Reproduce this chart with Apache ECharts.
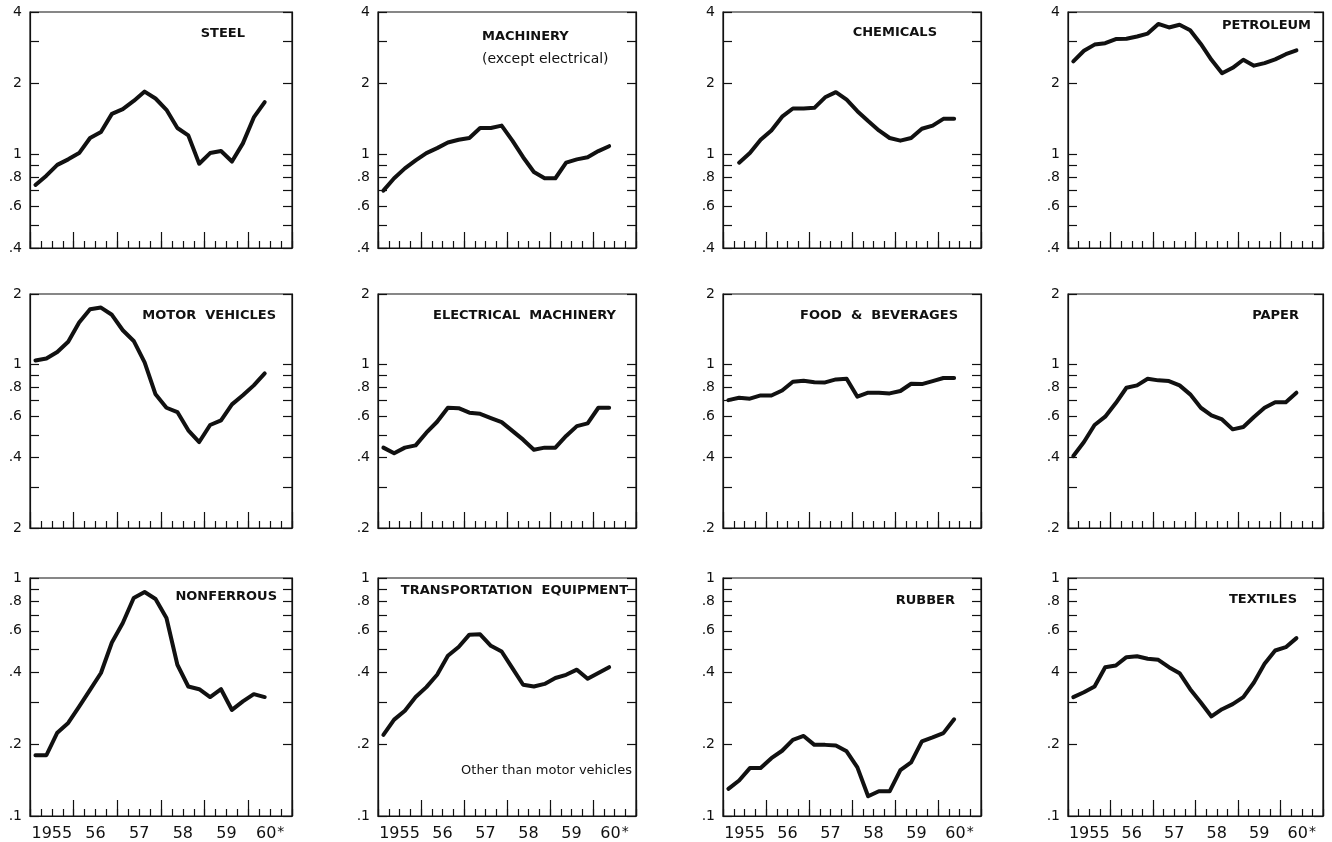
<!DOCTYPE html>
<html>
<head>
<meta charset="utf-8">
<title>Industrial output by industry, 1955-60</title>
<script src="https://cdn.jsdelivr.net/npm/echarts@6.0.0/dist/echarts.min.js"></script>
<style>
html, body { margin: 0; padding: 0; background: #fff; }
#chart { width: 1332px; height: 842px; }
</style>
</head>
<body>
<div id="chart"></div>
<script>
// ---- x categories (quarters 1955 Q1 .. 1960 Q4) ----
const years = ['1955', '1956', '1957', '1958', '1959', '1960'];
const yearLabels = ['1955', '56', '57', '58', '59', '60'];
const quarterNames = ['Q1', 'Q2', 'Q3', 'Q4'];

// ---- y ticks (log scale), one set per row ----
const row1Ticks = [0.4, 0.5, 0.6, 0.7, 0.8, 0.9, 1, 2, 3, 4];
const row1LabelValues = [0.4, 0.6, 0.8, 1, 2, 4];
const row1LabelText = ['.4', '.6', '.8', '1', '2', '4'];

const row2Ticks = [0.2, 0.3, 0.4, 0.5, 0.6, 0.7, 0.8, 0.9, 1, 2];
const row2LabelValues = [0.2, 0.4, 0.6, 0.8, 1, 2];
const row2LabelText = ['.2', '.4', '.6', '.8', '1', '2'];
const motorLabelText = ['2', '.4', '.6', '.8', '1', '2'];   // as printed

const row3Ticks = [0.1, 0.2, 0.3, 0.4, 0.5, 0.6, 0.7, 0.8, 0.9, 1];
const row3LabelValues = [0.1, 0.2, 0.4, 0.6, 0.8, 1];
const row3LabelText = ['.1', '.2', '.4', '.6', '.8', '1'];
const textilesLabelText = ['.1', '.2', '4', '.6', '.8', '1']; // as printed

// ---- quarterly series, 1955 Q1 .. 1960 Q2 ----
const steel = [0.74, 0.81, 0.90, 0.95, 1.01, 1.17, 1.24, 1.48, 1.55, 1.68, 1.84, 1.72, 1.54, 1.29, 1.20, 0.91, 1.01, 1.03, 0.93, 1.11, 1.43, 1.66];
const machinery = [0.70, 0.79, 0.87, 0.94, 1.01, 1.06, 1.12, 1.15, 1.17, 1.29, 1.29, 1.32, 1.14, 0.97, 0.84, 0.79, 0.79, 0.92, 0.95, 0.97, 1.03, 1.08];
const chemicals = [null, 0.92, 1.01, 1.15, 1.26, 1.44, 1.56, 1.56, 1.57, 1.74, 1.83, 1.70, 1.52, 1.38, 1.26, 1.17, 1.14, 1.17, 1.28, 1.32, 1.41, 1.41];
const petroleum = [2.47, 2.74, 2.91, 2.95, 3.07, 3.08, 3.15, 3.24, 3.56, 3.44, 3.53, 3.35, 2.93, 2.51, 2.20, 2.32, 2.51, 2.37, 2.43, 2.52, 2.65, 2.75];
const motorVehicles = [1.04, 1.06, 1.13, 1.25, 1.51, 1.72, 1.75, 1.63, 1.40, 1.26, 1.02, 0.745, 0.653, 0.626, 0.523, 0.466, 0.551, 0.577, 0.675, 0.738, 0.814, 0.915];
const electricalMachinery = [0.441, 0.417, 0.441, 0.451, 0.511, 0.569, 0.653, 0.65, 0.622, 0.615, 0.59, 0.567, 0.52, 0.477, 0.432, 0.441, 0.441, 0.495, 0.545, 0.56, 0.653, 0.653];
const foodBeverages = [0.704, 0.721, 0.714, 0.737, 0.737, 0.774, 0.843, 0.852, 0.84, 0.838, 0.863, 0.869, 0.728, 0.757, 0.757, 0.752, 0.77, 0.827, 0.824, 0.849, 0.875, 0.875];
const paper = [0.406, 0.466, 0.551, 0.598, 0.684, 0.795, 0.814, 0.869, 0.855, 0.849, 0.814, 0.745, 0.653, 0.606, 0.582, 0.528, 0.54, 0.596, 0.653, 0.69, 0.69, 0.757];
const nonferrous = [0.18, 0.18, 0.224, 0.246, 0.288, 0.339, 0.399, 0.536, 0.647, 0.824, 0.873, 0.816, 0.679, 0.432, 0.35, 0.341, 0.316, 0.341, 0.279, 0.303, 0.325, 0.316];
const transportation = [0.219, 0.254, 0.277, 0.316, 0.348, 0.392, 0.471, 0.513, 0.578, 0.58, 0.519, 0.491, 0.418, 0.356, 0.35, 0.359, 0.38, 0.392, 0.412, 0.377, 0.399, 0.422];
const rubber = [0.13, 0.141, 0.159, 0.159, 0.175, 0.188, 0.209, 0.217, 0.199, 0.199, 0.198, 0.187, 0.16, 0.121, 0.127, 0.127, 0.156, 0.168, 0.206, 0.214, 0.223, 0.255];
const textiles = [0.316, 0.331, 0.35, 0.422, 0.429, 0.465, 0.469, 0.458, 0.453, 0.422, 0.398, 0.341, 0.3, 0.262, 0.281, 0.295, 0.316, 0.364, 0.436, 0.496, 0.512, 0.559];

// ---- layout ----
const colLeft = [30, 378, 723, 1068];
const colWidth = [262, 258, 258, 255];
const rowTop = [12, 294, 578];
const rowHeight = [236, 234, 238];
const INK = '#111';
const FONT = 'DejaVu Sans';

const quarters = [];
years.forEach(y => quarterNames.forEach(q => quarters.push(y + ' ' + q)));

const panels = [
    {name: 'STEEL', data: steel, ticks: row1Ticks, lv: row1LabelValues, lt: row1LabelText, tx: 245, ty: 35},
    {name: 'MACHINERY', sub: '(except electrical)', data: machinery, ticks: row1Ticks, lv: row1LabelValues, lt: row1LabelText, tl: 482, ty: 38},
    {name: 'CHEMICALS', data: chemicals, ticks: row1Ticks, lv: row1LabelValues, lt: row1LabelText, tx: 937, ty: 34},
    {name: 'PETROLEUM', data: petroleum, ticks: row1Ticks, lv: row1LabelValues, lt: row1LabelText, tx: 1311, ty: 27},
    {name: 'MOTOR  VEHICLES', data: motorVehicles, ticks: row2Ticks, lv: row2LabelValues, lt: motorLabelText, tx: 276, ty: 317},
    {name: 'ELECTRICAL  MACHINERY', data: electricalMachinery, ticks: row2Ticks, lv: row2LabelValues, lt: row2LabelText, tx: 616, ty: 317},
    {name: 'FOOD  &  BEVERAGES', data: foodBeverages, ticks: row2Ticks, lv: row2LabelValues, lt: row2LabelText, tx: 958, ty: 317},
    {name: 'PAPER', data: paper, ticks: row2Ticks, lv: row2LabelValues, lt: row2LabelText, tx: 1299, ty: 317},
    {name: 'NONFERROUS', data: nonferrous, ticks: row3Ticks, lv: row3LabelValues, lt: row3LabelText, tx: 277, ty: 598},
    {name: 'TRANSPORTATION  EQUIPMENT', data: transportation, ticks: row3Ticks, lv: row3LabelValues, lt: row3LabelText, tx: 628, ty: 592},
    {name: 'RUBBER', data: rubber, ticks: row3Ticks, lv: row3LabelValues, lt: row3LabelText, tx: 955, ty: 602},
    {name: 'TEXTILES', data: textiles, ticks: row3Ticks, lv: row3LabelValues, lt: textilesLabelText, tx: 1297, ty: 601}
];

function labelFormatter(vals, texts) {
    return function (v) {
        for (let i = 0; i < vals.length; i++) {
            if (Math.abs(v - vals[i]) < vals[i] * 1e-6) return texts[i];
        }
        return '';
    };
}

const grids = [], xAxes = [], yAxes = [], series = [], titles = [];

panels.forEach((p, i) => {
    const row = Math.floor(i / 4), col = i % 4;
    grids.push({
        left: colLeft[col], top: rowTop[row], width: colWidth[col], height: rowHeight[row],
        show: true, borderColor: INK, borderWidth: 1.2, backgroundColor: 'transparent',
        containLabel: false, outerBoundsMode: 'none'
    });
    // quarter ticks (short)
    xAxes.push({
        type: 'category', gridIndex: i, position: 'bottom', data: quarters,
        axisLine: {show: true, onZero: false, lineStyle: {color: INK, width: 1.2}},
        axisTick: {show: true, inside: true, interval: 0, length: 7, lineStyle: {color: INK, width: 1.2}},
        axisLabel: {show: false}, splitLine: {show: false}
    });
    // year ticks (long) + year labels on bottom row
    xAxes.push({
        type: 'category', gridIndex: i, position: 'bottom', data: years,
        axisLine: {show: false, onZero: false},
        axisTick: {show: true, inside: true, interval: 0, length: 16, lineStyle: {color: INK, width: 1.2}},
        axisLabel: {
            show: row === 2, interval: 0, margin: 9, color: INK, fontFamily: FONT, fontSize: 16,
            formatter: (v, idx) => '{a|' + yearLabels[idx] + '}' + (idx === yearLabels.length - 1 ? '{s|*}' : ''),
            rich: {
                a: {fontFamily: FONT, fontSize: 16, color: INK, lineHeight: 18},
                s: {fontFamily: FONT, fontSize: 14, color: INK, lineHeight: 8, verticalAlign: 'top', padding: [0, 0, 0, 1]}
            }
        },
        splitLine: {show: false}
    });
    const yCommon = {
        type: 'log', logBase: 10, gridIndex: i,
        min: p.ticks[0], max: p.ticks[p.ticks.length - 1],
        axisLine: {show: true, lineStyle: {color: INK, width: 1.2}},
        axisTick: {show: true, inside: true, length: 9, customValues: p.ticks, lineStyle: {color: INK, width: 1.2}},
        splitLine: {show: false}, minorTick: {show: false}
    };
    yAxes.push(Object.assign({}, yCommon, {
        position: 'left',
        axisLabel: {
            show: true, margin: 8, color: INK, fontFamily: FONT, fontSize: 14,
            customValues: p.lv, formatter: labelFormatter(p.lv, p.lt)
        }
    }));
    yAxes.push(Object.assign({}, yCommon, {
        position: 'right',
        axisLabel: {show: false}
    }));
    series.push({
        type: 'line', name: p.name, data: p.data,
        xAxisIndex: 2 * i, yAxisIndex: 2 * i,
        showSymbol: false, symbol: 'none', connectNulls: false, smooth: false,
        lineStyle: {color: INK, width: 4, cap: 'round', join: 'round'}
    });
    const titleStyle = {fontFamily: FONT, fontSize: 13, fontWeight: 'bold', color: INK};
    if (p.sub) {
        titles.push({
            text: p.name, subtext: p.sub, left: p.tl, top: p.ty - 8, padding: 0, itemGap: 9,
            textStyle: titleStyle,
            subtextStyle: {fontFamily: FONT, fontSize: 14, color: INK}
        });
    } else {
        titles.push({
            text: p.name, right: 1332 - p.tx, top: p.ty - 8, padding: 0,
            textStyle: titleStyle
        });
    }
});

// note under transportation equipment
titles.push({
    text: 'Other than motor vehicles', right: 1332 - 632, top: 764, padding: 0,
    textStyle: {fontFamily: FONT, fontSize: 13, fontWeight: 'normal', color: INK}
});

const chart = echarts.init(document.getElementById('chart'), null, {renderer: 'canvas'});
chart.setOption({
    backgroundColor: '#fff',
    animation: false,
    title: titles,
    grid: grids,
    xAxis: xAxes,
    yAxis: yAxes,
    series: series
});
</script>
</body>
</html>
